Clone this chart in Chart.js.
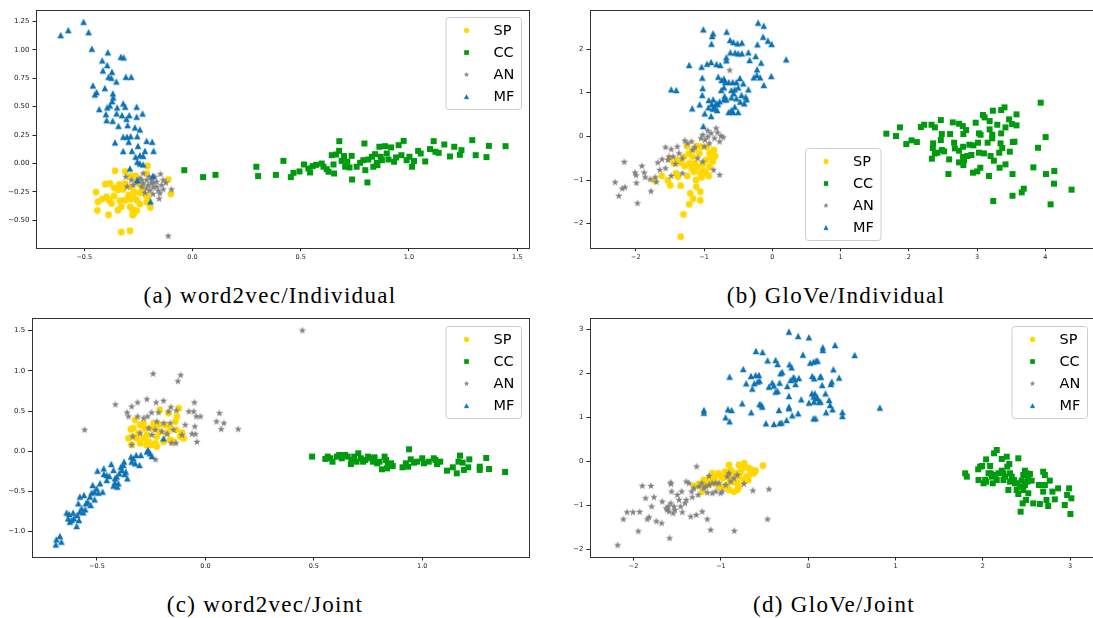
<!DOCTYPE html>
<html>
<head>
<meta charset="utf-8">
<script src="https://cdn.jsdelivr.net/npm/chart.js@4.4.1/dist/chart.umd.min.js"></script>
<style>
  body { margin: 0; background: #fff; width: 1093px; height: 618px; overflow: hidden; position: relative; }
  canvas { position: absolute; }
  .cap { position: absolute; font-family: "Liberation Serif", serif; font-size: 23px; letter-spacing: 1.3px; color: #000; white-space: nowrap; transform: translateX(-50%); line-height: 1; }
</style>
</head>
<body>
<canvas id="chartA" width="546" height="272" style="left:0px;top:0px"></canvas>
<canvas id="chartB" width="560" height="272" style="left:550px;top:0px"></canvas>
<canvas id="chartC" width="546" height="272" style="left:0px;top:310px"></canvas>
<canvas id="chartD" width="560" height="272" style="left:550px;top:310px"></canvas>
<div class="cap" style="left:270px;top:284px">(a) word2vec/Individual</div>
<div class="cap" style="left:836px;top:284px">(b) GloVe/Individual</div>
<div class="cap" style="left:265px;top:593px">(c) word2vec/Joint</div>
<div class="cap" style="left:834px;top:593px">(d) GloVe/Joint</div>
<script>
let labels = ["SP", "CC", "AN", "MF"];

// (a) word2vec / Individual
let aSP = [[-0.358,-0.065],[-0.311,-0.070],[-0.286,-0.111],[-0.262,-0.109],[-0.208,-0.021],[-0.212,-0.088],[-0.112,-0.141],[-0.100,-0.267],[-0.382,-0.176],[-0.403,-0.182],[-0.338,-0.185],[-0.312,-0.176],[-0.362,-0.214],[-0.345,-0.232],[-0.320,-0.229],[-0.286,-0.205],[-0.255,-0.176],[-0.234,-0.199],[-0.271,-0.249],[-0.243,-0.258],[-0.215,-0.282],[-0.446,-0.252],[-0.418,-0.314],[-0.437,-0.337],[-0.397,-0.293],[-0.386,-0.323],[-0.374,-0.352],[-0.363,-0.287],[-0.335,-0.328],[-0.311,-0.323],[-0.286,-0.314],[-0.258,-0.323],[-0.243,-0.358],[-0.212,-0.340],[-0.195,-0.387],[-0.329,-0.381],[-0.345,-0.411],[-0.440,-0.413],[-0.388,-0.452],[-0.289,-0.381],[-0.277,-0.405],[-0.258,-0.416],[-0.271,-0.440],[-0.277,-0.455],[-0.329,-0.604],[-0.289,-0.592],[-0.274,-0.293],[-0.295,-0.279],[-0.231,-0.249],[-0.205,-0.293]];
let aCC = [[-0.038,-0.059],[0.049,-0.120],[0.106,-0.100],[0.295,-0.029],[0.303,-0.111],[0.385,-0.100],[0.420,0.023],[0.454,-0.120],[0.466,-0.082],[0.494,-0.070],[0.515,-0.009],[0.535,-0.044],[0.543,-0.079],[0.555,-0.023],[0.571,-0.012],[0.597,0.000],[0.605,-0.029],[0.620,-0.050],[0.628,-0.073],[0.654,-0.088],[0.651,-0.009],[0.643,0.073],[0.663,0.079],[0.678,0.196],[0.677,0.111],[0.689,0.023],[0.700,0.065],[0.705,-0.029],[0.715,0.015],[0.725,-0.035],[0.737,-0.141],[0.735,0.067],[0.758,-0.029],[0.774,0.006],[0.794,0.176],[0.789,0.029],[0.798,-0.059],[0.808,-0.167],[0.812,0.035],[0.829,0.059],[0.835,-0.029],[0.843,0.082],[0.851,0.006],[0.854,-0.015],[0.863,0.147],[0.869,0.059],[0.875,0.029],[0.889,0.152],[0.897,0.088],[0.917,0.141],[0.905,0.035],[0.931,0.015],[0.940,0.053],[0.952,0.161],[0.975,0.199],[0.965,0.073],[0.989,0.029],[1.002,0.059],[1.014,-0.029],[1.023,0.021],[1.042,0.111],[1.054,0.088],[1.075,0.018],[1.097,0.126],[1.114,0.196],[1.122,0.103],[1.137,0.094],[1.163,0.167],[1.189,0.062],[1.209,0.147],[1.235,0.076],[1.242,0.117],[1.292,0.205],[1.308,0.073],[1.358,0.056],[1.369,0.155],[1.446,0.152]];
let aAN = [[-0.308,-0.117],[-0.282,-0.147],[-0.302,-0.205],[-0.258,-0.161],[-0.228,-0.088],[-0.212,-0.147],[-0.189,-0.176],[-0.182,-0.211],[-0.166,-0.161],[-0.148,-0.094],[-0.135,-0.147],[-0.158,-0.240],[-0.197,-0.240],[-0.151,-0.264],[-0.154,-0.311],[-0.097,-0.229],[-0.112,-0.639],[-0.235,-0.205],[-0.220,-0.258],[-0.205,-0.191],[-0.174,-0.117],[-0.243,-0.132],[-0.143,-0.191],[-0.123,-0.170],[-0.182,-0.270],[-0.212,-0.220],[-0.189,-0.147],[-0.166,-0.205],[-0.135,-0.229],[-0.228,-0.176],[-0.200,-0.117],[-0.180,-0.170],[-0.235,-0.147],[-0.274,-0.191]];
let aMF = [[-0.609,1.129],[-0.574,1.173],[-0.503,1.246],[-0.480,1.155],[-0.465,1.009],[-0.391,0.977],[-0.417,0.906],[-0.331,0.938],[-0.318,0.933],[-0.394,0.865],[-0.414,0.818],[-0.372,0.806],[-0.388,0.762],[-0.375,0.754],[-0.352,0.721],[-0.308,0.762],[-0.283,0.762],[-0.460,0.686],[-0.443,0.628],[-0.451,0.607],[-0.405,0.663],[-0.368,0.616],[-0.366,0.581],[-0.371,0.548],[-0.431,0.478],[-0.394,0.493],[-0.382,0.510],[-0.348,0.493],[-0.320,0.528],[-0.311,0.499],[-0.258,0.499],[-0.231,0.440],[-0.400,0.434],[-0.397,0.381],[-0.369,0.375],[-0.351,0.440],[-0.326,0.425],[-0.305,0.393],[-0.292,0.425],[-0.258,0.411],[-0.342,0.331],[-0.300,0.337],[-0.266,0.317],[-0.243,0.299],[-0.358,0.185],[-0.320,0.235],[-0.303,0.235],[-0.286,0.240],[-0.295,0.191],[-0.255,0.240],[-0.212,0.199],[-0.186,0.191],[-0.252,0.155],[-0.220,0.111],[-0.180,0.111],[-0.320,0.109],[-0.280,0.111],[-0.263,0.059],[-0.243,0.073],[-0.228,0.067],[-0.255,0.015],[-0.243,0.000],[-0.228,-0.009],[-0.289,-0.044],[-0.255,-0.147],[-0.183,-0.109],[-0.194,-0.334]];
let aXTicks = [-0.5, 0, 0.5, 1.0, 1.5];
let aYTicks = [-0.5, -0.25, 0, 0.25, 0.5, 0.75, 1.0, 1.25];

// (b) GloVe / Individual
let bSP = [[-1.342,-2.298],[-1.302,-1.786],[-1.218,-1.557],[-1.158,-1.427],[-1.203,-1.305],[-1.054,-1.466],[-1.054,-1.267],[-1.114,-1.153],[-1.342,-1.130],[-1.495,-1.122],[-1.530,-1.008],[-1.619,-0.908],[-1.723,-1.008],[-1.411,-0.847],[-1.381,-0.924],[-1.243,-0.908],[-1.119,-1.000],[-1.035,-0.939],[-1.005,-0.786],[-0.931,-0.908],[-0.970,-0.832],[-0.871,-0.580],[-0.837,-0.450],[-0.856,-0.313],[-0.921,-0.389],[-0.970,-0.542],[-1.020,-0.634],[-1.094,-0.695],[-1.144,-0.809],[-1.183,-0.733],[-1.218,-0.618],[-1.282,-0.679],[-1.342,-0.603],[-1.292,-0.466],[-1.218,-0.389],[-1.153,-0.298],[-1.104,-0.221],[-1.252,-0.221],[-1.168,-0.466],[-1.069,-0.389],[-1.045,-0.237],[-0.955,-0.237],[-0.886,-0.466],[-1.500,-0.504],[-1.391,-0.542],[-1.441,-0.618],[-1.134,-0.618],[-1.054,-0.847],[-0.921,-0.695]];
let bCC = [[1.671,0.061],[1.812,0.008],[1.870,0.206],[1.963,-0.176],[2.040,-0.092],[2.118,-0.130],[2.176,0.214],[2.225,0.267],[2.332,0.267],[2.381,0.206],[2.468,0.374],[2.483,0.053],[2.468,-0.084],[2.356,-0.160],[2.351,-0.267],[2.381,-0.389],[2.337,-0.511],[2.420,-0.374],[2.483,-0.313],[2.517,-0.344],[2.605,0.053],[2.644,0.321],[2.736,0.290],[2.790,0.237],[2.839,0.145],[2.799,0.053],[2.663,-0.145],[2.673,-0.275],[2.736,-0.328],[2.795,-0.237],[2.887,-0.191],[2.945,-0.206],[3.013,-0.145],[2.979,0.313],[3.086,0.489],[3.110,0.435],[3.183,0.351],[3.231,0.588],[3.353,0.603],[3.401,0.664],[3.469,0.389],[3.513,0.282],[3.577,0.504],[3.577,0.252],[3.295,0.267],[3.353,0.069],[3.416,0.206],[3.183,0.160],[3.222,0.038],[3.222,-0.046],[3.154,-0.145],[3.027,0.069],[3.051,0.038],[3.343,-0.160],[3.368,-0.267],[3.324,-0.374],[3.479,-0.351],[3.523,-0.130],[3.547,-0.122],[3.100,-0.389],[3.197,-0.450],[3.246,-0.557],[3.027,-0.374],[2.916,-0.427],[2.857,-0.450],[2.809,-0.542],[2.736,-0.595],[2.799,-0.656],[2.590,-0.527],[2.580,-0.863],[2.940,-0.832],[3.003,-0.802],[3.047,-0.718],[3.173,-0.908],[3.329,-0.718],[3.416,-0.641],[3.518,-0.863],[3.236,-1.481],[3.518,-1.359],[3.654,-1.282],[3.683,-1.198],[3.824,-0.710],[3.893,-0.260],[3.931,0.771],[4.004,-0.015],[4.009,-0.863],[4.131,-0.794],[4.126,-1.084],[4.077,-1.557],[4.384,-1.221],[2.794,-0.466]];
let bAN = [[-2.302,-1.053],[-2.248,-1.366],[-2.198,-1.198],[-2.158,-1.168],[-2.168,-0.588],[-2.010,-0.832],[-1.995,-0.893],[-1.990,-1.069],[-1.911,-0.679],[-1.876,-0.832],[-1.861,-0.939],[-1.975,-1.534],[-1.777,-1.260],[-1.787,-0.985],[-1.713,-0.939],[-1.698,-1.046],[-1.678,-0.603],[-1.649,-0.771],[-1.614,-0.527],[-1.564,-0.252],[-1.530,-0.542],[-1.515,-0.466],[-1.480,-0.298],[-1.451,-0.466],[-1.416,-0.634],[-1.391,-0.237],[-1.366,-0.389],[-1.317,-0.504],[-1.282,-0.099],[-1.243,-0.160],[-1.183,-0.122],[-1.168,-0.313],[-1.317,-0.847],[-1.480,-0.908],[-1.564,-0.733],[-1.045,-0.046],[-1.020,0.031],[-0.985,-0.084],[-0.945,-0.008],[-0.896,0.069],[-0.847,-0.046],[-0.822,0.183],[-0.802,0.084],[-0.752,0.008],[-0.718,-0.023],[-0.772,-0.122],[-0.921,-0.160],[-0.995,-0.237],[-1.134,-0.252],[-1.020,-0.580],[-1.094,-0.504],[-0.861,-0.771],[-0.772,-0.885],[-0.624,1.511],[-0.946,0.130]];
let bMF = [[-1.010,2.450],[-0.866,2.359],[-0.881,2.298],[-0.891,2.122],[-0.668,2.397],[-0.619,2.206],[-0.569,2.160],[-0.510,2.130],[-0.446,2.145],[-0.500,1.901],[-0.545,1.916],[-0.614,1.924],[-0.208,2.603],[-0.124,2.534],[-0.134,2.282],[-0.064,2.191],[-0.010,2.115],[-0.218,2.107],[-0.351,1.924],[-0.446,1.901],[-0.243,1.840],[-0.332,1.748],[-0.163,1.687],[-0.223,1.534],[-0.228,1.405],[-0.178,1.351],[-0.272,1.351],[-0.015,1.382],[-0.124,1.176],[0.203,1.763],[-1.218,1.634],[-1.035,1.595],[-0.955,1.664],[-0.896,1.702],[-0.817,1.656],[-0.762,1.634],[-0.673,1.809],[-0.673,1.740],[-1.025,1.344],[-1.020,1.107],[-1.025,0.947],[-1.480,1.076],[-1.406,1.061],[-1.173,0.641],[-1.064,0.733],[-0.990,0.527],[-0.936,0.664],[-0.896,0.466],[-0.886,0.740],[-0.847,0.679],[-0.807,0.603],[-0.792,1.366],[-0.743,1.290],[-0.708,1.321],[-0.688,1.244],[-0.708,1.122],[-0.748,1.061],[-0.698,0.924],[-0.639,1.244],[-0.579,1.244],[-0.525,1.244],[-0.475,1.336],[-0.426,1.214],[-0.500,1.122],[-0.550,1.076],[-0.599,1.061],[-0.564,0.985],[-0.599,0.893],[-0.525,0.870],[-0.450,0.947],[-0.391,0.908],[-0.351,1.076],[-0.376,0.847],[-0.411,0.756],[-0.470,0.794],[-0.550,0.679],[-0.599,0.603],[-0.639,0.557],[-0.574,0.557],[-0.500,0.557],[-0.673,0.847],[-0.708,0.847],[-0.772,0.802],[-0.797,0.740],[-0.931,0.832],[-0.866,0.847],[-0.822,0.756],[-1.010,0.237],[-0.871,0.634]];
let bXTicks = [-2, -1, 0, 1, 2, 3, 4];
let bYTicks = [-2, -1, 0, 1, 2];

// (c) word2vec / Joint
let cSP = [[-0.355,0.162],[-0.344,0.274],[-0.332,0.286],[-0.324,0.390],[-0.335,0.183],[-0.316,0.162],[-0.301,0.328],[-0.282,0.286],[-0.270,0.203],[-0.262,0.120],[-0.285,0.162],[-0.247,0.079],[-0.231,0.100],[-0.224,0.183],[-0.211,0.515],[-0.239,0.286],[-0.216,0.328],[-0.208,0.245],[-0.185,0.328],[-0.177,0.224],[-0.162,0.141],[-0.147,0.120],[-0.139,0.369],[-0.131,0.432],[-0.123,0.535],[-0.116,0.183],[-0.108,0.232],[-0.100,0.162],[-0.134,0.266],[-0.162,0.286],[-0.193,0.120],[-0.224,0.058],[-0.239,0.349],[-0.255,0.286],[-0.170,0.473],[-0.285,0.349],[-0.309,0.224],[-0.301,0.100],[-0.340,0.079],[-0.273,0.079]];
let cCC = [[0.492,-0.066],[0.553,-0.095],[0.564,-0.066],[0.576,-0.087],[0.586,-0.129],[0.606,-0.066],[0.617,-0.046],[0.629,-0.087],[0.644,-0.046],[0.656,-0.066],[0.671,-0.158],[0.674,-0.108],[0.686,-0.066],[0.697,-0.129],[0.705,-0.025],[0.717,-0.087],[0.727,-0.129],[0.738,-0.108],[0.750,-0.066],[0.765,-0.087],[0.773,-0.129],[0.780,-0.075],[0.792,-0.149],[0.803,-0.129],[0.814,-0.224],[0.826,-0.066],[0.833,-0.108],[0.841,-0.170],[0.856,-0.149],[0.864,-0.183],[0.838,-0.212],[0.909,-0.199],[0.924,-0.149],[0.935,-0.191],[0.939,0.025],[0.947,-0.100],[0.962,-0.141],[0.977,-0.129],[1.000,-0.087],[1.008,-0.149],[1.030,-0.129],[1.053,-0.087],[1.061,-0.108],[1.068,-0.158],[1.083,-0.129],[1.114,-0.241],[1.141,-0.199],[1.159,-0.274],[1.167,-0.129],[1.174,-0.054],[1.186,-0.141],[1.192,-0.232],[1.212,-0.199],[1.217,-0.100],[1.265,-0.191],[1.265,-0.232],[1.295,-0.083],[1.308,-0.220],[1.382,-0.257]];
let cAN = [[-0.557,0.266],[-0.415,0.581],[-0.361,0.481],[-0.355,0.432],[-0.340,0.556],[-0.313,0.606],[-0.270,0.647],[-0.227,0.606],[-0.193,0.627],[-0.248,0.481],[-0.216,0.481],[-0.170,0.494],[-0.159,0.548],[-0.134,0.506],[-0.127,0.871],[-0.114,0.946],[-0.241,0.963],[-0.077,0.494],[-0.051,0.606],[-0.054,0.494],[-0.042,0.432],[-0.023,0.432],[-0.093,0.328],[-0.049,0.307],[-0.046,0.212],[-0.039,0.116],[-0.062,0.216],[-0.108,0.203],[-0.136,0.100],[-0.157,0.100],[-0.177,0.216],[-0.201,0.245],[-0.231,0.266],[-0.262,0.286],[-0.247,0.203],[-0.301,0.224],[-0.285,0.411],[-0.267,0.432],[-0.313,0.432],[-0.335,0.183],[-0.340,0.079],[-0.230,-0.104],[0.051,0.369],[0.065,0.473],[0.073,0.274],[0.085,0.349],[0.151,0.274],[-0.162,0.349],[-0.147,0.266],[-0.193,0.349],[-0.224,0.369],[0.447,1.502]];
let cMF = [[-0.690,-1.158],[-0.687,-1.095],[-0.671,-1.054],[-0.664,-1.124],[-0.640,-0.763],[-0.633,-0.834],[-0.625,-0.876],[-0.628,-0.780],[-0.610,-0.763],[-0.606,-0.834],[-0.594,-0.929],[-0.583,-0.855],[-0.579,-0.751],[-0.586,-0.647],[-0.571,-0.710],[-0.563,-0.759],[-0.554,-0.722],[-0.579,-0.564],[-0.560,-0.544],[-0.543,-0.627],[-0.532,-0.564],[-0.525,-0.515],[-0.520,-0.419],[-0.512,-0.502],[-0.502,-0.461],[-0.498,-0.241],[-0.494,-0.515],[-0.474,-0.502],[-0.469,-0.212],[-0.468,-0.282],[-0.455,-0.295],[-0.455,-0.357],[-0.443,-0.307],[-0.434,-0.158],[-0.424,-0.232],[-0.417,-0.336],[-0.417,-0.390],[-0.424,-0.427],[-0.406,-0.440],[-0.401,-0.398],[-0.409,-0.315],[-0.397,-0.274],[-0.390,-0.191],[-0.386,-0.232],[-0.378,-0.170],[-0.375,-0.129],[-0.367,-0.253],[-0.360,-0.336],[-0.373,-0.282],[-0.343,-0.066],[-0.340,-0.129],[-0.332,-0.087],[-0.324,-0.149],[-0.304,-0.170],[-0.319,-0.046],[-0.298,-0.046],[-0.270,-0.004],[-0.264,0.017],[-0.255,-0.025],[-0.247,-0.058],[-0.193,0.162],[-0.486,-0.398],[-0.511,-0.598],[-0.529,-0.668],[-0.551,-0.647],[-0.591,-0.792],[-0.617,-0.855]];
let cXTicks = [-0.5, 0, 0.5, 1.0];
let cYTicks = [-1.0, -0.5, 0, 0.5, 1.0, 1.5];

// (d) GloVe / Joint
let dSP = [[-0.519,-0.098],[-0.733,-0.045],[-0.718,-0.121],[-0.756,-0.159],[-0.641,-0.197],[-0.622,-0.273],[-0.603,-0.212],[-0.660,-0.288],[-0.710,-0.348],[-0.687,-0.424],[-0.737,-0.439],[-0.794,-0.348],[-0.813,-0.500],[-0.851,-0.462],[-0.870,-0.273],[-0.889,-0.197],[-0.927,-0.348],[-0.954,-0.235],[-0.985,-0.386],[-1.004,-0.311],[-1.031,-0.273],[-1.061,-0.348],[-1.080,-0.424],[-1.099,-0.273],[-1.137,-0.386],[-1.156,-0.462],[-1.195,-0.424],[-1.214,-0.689],[-1.206,-0.538],[-1.137,-0.538],[-1.061,-0.500],[-1.023,-0.576],[-0.966,-0.576],[-0.908,-0.652],[-0.851,-0.689],[-0.813,-0.652],[-0.794,-0.576],[-0.927,-0.538],[-0.889,-0.424],[-0.832,-0.273],[-0.775,-0.235],[-0.679,-0.159],[-0.908,-0.083],[-0.794,-0.083],[-1.252,-0.515],[-1.309,-0.561]];
let dCC = [[1.798,-0.273],[1.817,-0.348],[1.947,-0.182],[1.951,-0.424],[1.970,-0.121],[1.992,-0.106],[2.038,0.045],[2.027,-0.424],[2.008,-0.500],[2.084,-0.106],[2.065,-0.273],[2.091,-0.273],[2.114,-0.500],[2.129,0.182],[2.160,0.258],[2.103,-0.348],[2.144,-0.311],[2.179,-0.273],[2.217,0.053],[2.217,-0.212],[2.236,-0.273],[2.255,-0.348],[2.274,0.106],[2.281,-0.121],[2.304,-0.061],[2.312,-0.273],[2.331,-0.348],[2.357,-0.424],[2.293,-0.652],[2.388,-0.500],[2.407,0.068],[2.388,-0.652],[2.407,-0.742],[2.426,-0.576],[2.445,-0.439],[2.464,-0.311],[2.483,-0.212],[2.502,-0.273],[2.521,-0.348],[2.540,-0.288],[2.510,-0.462],[2.483,-0.538],[2.464,-0.652],[2.521,-0.727],[2.494,-0.879],[2.456,-0.955],[2.433,-1.144],[2.578,-0.955],[2.643,-0.538],[2.654,-0.970],[2.692,-0.235],[2.711,-0.311],[2.711,-0.538],[2.692,-0.689],[2.730,-0.879],[2.749,-1.015],[2.768,-0.439],[2.798,-0.689],[2.825,-0.864],[2.863,-0.614],[2.939,-0.992],[2.966,-0.765],[2.989,-0.614],[3.015,-0.841],[3.004,-1.197],[2.369,-0.500],[2.236,-0.424],[2.160,-0.424],[2.038,-0.462],[2.312,-0.462],[2.559,-0.439]];
let dAN = [[-2.183,-1.909],[-2.118,-1.318],[-2.076,-1.159],[-2.008,-1.159],[-1.931,-1.152],[-1.947,-1.591],[-1.901,-0.561],[-1.802,-0.561],[-1.863,-0.841],[-1.767,-0.818],[-1.794,-1.030],[-1.844,-1.318],[-1.824,-1.273],[-1.740,-1.364],[-1.679,-1.409],[-1.672,-0.917],[-1.626,-1.068],[-1.603,-1.030],[-1.576,-0.955],[-1.588,-1.750],[-1.615,-1.106],[-1.595,-1.144],[-1.565,-0.689],[-1.576,-0.485],[-1.573,-0.515],[-1.546,-1.182],[-1.527,-1.106],[-1.538,-1.030],[-1.500,-0.765],[-1.481,-0.879],[-1.450,-0.689],[-1.462,-1.030],[-1.443,-1.159],[-1.412,-0.955],[-1.397,-0.879],[-1.397,-0.462],[-1.366,-0.500],[-1.347,-1.258],[-1.328,-0.818],[-1.336,-0.689],[-1.309,-0.614],[-1.279,-0.121],[-1.282,-1.220],[-1.260,-0.765],[-1.252,-0.576],[-1.214,-1.144],[-1.176,-0.576],[-1.195,-0.614],[-1.156,-0.712],[-1.137,-0.538],[-1.156,-1.318],[-1.118,-1.561],[-1.099,-0.727],[-1.061,-0.689],[-1.004,-0.727],[-1.023,-0.500],[-0.985,-0.689],[-0.947,-0.538],[-0.908,-0.273],[-0.851,-0.386],[-0.813,-0.311],[-0.737,-0.515],[-0.634,-0.667],[-0.450,-0.636],[-0.466,-1.318],[-0.847,-1.583],[-0.927,-0.348],[-0.889,-0.462],[-1.061,-0.500],[-1.099,-0.500],[-1.137,-0.333],[-1.221,-0.500]];
let dMF = [[-1.195,1.167],[-1.195,1.106],[-0.947,1.000],[-0.920,1.182],[-0.878,1.167],[-0.901,0.909],[-0.901,1.924],[-0.744,2.098],[-0.756,1.318],[-0.653,1.114],[-0.656,1.939],[-0.599,2.508],[-0.523,2.485],[-0.565,1.962],[-0.557,1.833],[-0.580,1.811],[-0.618,1.773],[-0.641,1.652],[-0.557,1.303],[-0.538,1.288],[-0.466,2.295],[-0.485,0.864],[-0.393,0.848],[-0.374,2.303],[-0.351,2.212],[-0.328,0.871],[-0.305,0.879],[-0.412,1.788],[-0.393,1.720],[-0.351,1.598],[-0.328,1.788],[-0.317,2.000],[-0.298,2.030],[-0.240,1.712],[-0.221,1.205],[-0.214,2.205],[-0.191,2.136],[-0.168,1.917],[-0.202,1.848],[-0.153,1.864],[-0.145,1.758],[-0.107,1.894],[-0.221,1.485],[-0.221,1.242],[-0.183,1.045],[-0.115,1.091],[-0.080,1.409],[-0.061,2.424],[-0.115,2.848],[-0.221,2.947],[0.008,2.818],[0.008,1.333],[0.023,2.242],[0.065,1.356],[0.076,1.545],[0.084,0.977],[0.107,2.288],[0.103,1.455],[0.141,1.356],[0.145,1.924],[-0.248,0.939],[-0.336,1.167],[-0.374,1.583],[-0.450,1.697],[-0.527,1.242],[-0.710,1.773],[-0.603,1.962],[0.061,2.265],[0.091,2.288],[0.046,1.939],[0.068,1.886],[0.137,1.924],[0.167,2.591],[0.167,2.530],[0.308,2.644],[0.532,2.417],[0.289,2.091],[0.354,1.902],[0.160,1.735],[0.259,1.758],[0.270,1.811],[0.042,1.545],[0.061,1.470],[0.099,1.432],[0.198,1.545],[0.240,1.394],[0.125,1.356],[0.251,1.280],[0.278,1.182],[0.205,1.114],[0.392,1.121],[0.392,1.030],[0.061,0.977],[0.821,1.220]];
let dXTicks = [-2, -1, 0, 1, 2, 3];
let dYTicks = [-2, -1, 0, 1, 2, 3];

let colors = { SP: "#ffd700", CC: "#009a0e", AN: "#808080", MF: "#0b72b3" };

// marker glyphs like matplotlib's o, s, *, ^
function makeMarker(shape, color, s) {
    let c = document.createElement("canvas");
    c.width = 12;
    c.height = 12;
    let g = c.getContext("2d");
    g.fillStyle = color;
    g.translate(6, 6);
    g.beginPath();
    if (shape === "circle") {
        g.arc(0, 0, s / 2, 0, Math.PI * 2);
    } else if (shape === "square") {
        g.rect(-s / 2, -s / 2, s, s);
    } else if (shape === "triangle") {
        g.moveTo(0, -s / 2);
        g.lineTo(s / 2, s / 2);
        g.lineTo(-s / 2, s / 2);
        g.closePath();
    } else {
        for (let i = 0; i < 10; i++) {
            let r = i % 2 === 0 ? s / 2 : s / 2 * 0.4;
            let a = -Math.PI / 2 + i * Math.PI / 5;
            if (i === 0) g.moveTo(r * Math.cos(a), r * Math.sin(a));
            else g.lineTo(r * Math.cos(a), r * Math.sin(a));
        }
        g.closePath();
    }
    g.fill();
    return c;
}

let markers = {
    SP: makeMarker("circle", colors.SP, 6.8),
    CC: makeMarker("square", colors.CC, 6.0),
    AN: makeMarker("star", colors.AN, 7.8),
    MF: makeMarker("triangle", colors.MF, 6.6)
};

// box around the plot (all four spines)
let framePlugin = {
    id: "frame",
    afterDatasetsDraw(chart) {
        let a = chart.chartArea;
        let ctx = chart.ctx;
        ctx.save();
        ctx.strokeStyle = "#333";
        ctx.lineWidth = 1;
        ctx.strokeRect(Math.round(a.left) + 0.5, Math.round(a.top) + 0.5, Math.round(a.right - a.left), Math.round(a.bottom - a.top));
        ctx.restore();
    }
};

// matplotlib style legend inside the axes
let boxLegend = {
    id: "boxLegend",
    afterDraw(chart, args, opts) {
        let ctx = chart.ctx;
        let [x, y, w, h] = opts.box;
        ctx.save();
        ctx.fillStyle = "rgba(255,255,255,0.8)";
        ctx.strokeStyle = "#cccccc";
        ctx.lineWidth = 1;
        ctx.beginPath();
        ctx.roundRect(x + 0.5, y + 0.5, w, h, 3);
        ctx.fill();
        ctx.stroke();
        ctx.font = "14.5px 'DejaVu Sans'";
        ctx.fillStyle = "#000";
        ctx.textBaseline = "middle";
        labels.forEach((lab, i) => {
            let ry = y + 13.5 + i * 22;
            ctx.drawImage(markers[lab], x + 21 - 4.5, ry - 4.5, 9, 9);
            ctx.fillText(lab, x + 48, ry + 0.5);
        });
        ctx.restore();
    }
};

function fmt(v, dec) {
    return v.toFixed(dec).replace("-", "\u2212");
}

function toXY(arr) {
    return arr.map(p => ({ x: p[0], y: p[1] }));
}

function makePanel(id, p) {
    let sets = [p.SP, p.CC, p.AN, p.MF];
    new Chart(document.getElementById(id), {
        type: "scatter",
        data: {
            datasets: labels.map((lab, i) => ({
                label: lab,
                data: toXY(sets[i]),
                pointStyle: markers[lab],
                pointRadius: 3,
                order: 4 - i
            }))
        },
        options: {
            responsive: false,
            animation: false,
            devicePixelRatio: 1,
            layout: { autoPadding: false, padding: { top: p.padTop, right: p.padRight, left: 0, bottom: 0 } },
            plugins: {
                legend: { display: false },
                tooltip: { enabled: false },
                boxLegend: { box: p.legend }
            },
            scales: {
                x: {
                    type: "linear",
                    min: p.xRange[0],
                    max: p.xRange[1],
                    afterFit: s => { s.height = p.xHeight; },
                    afterBuildTicks: s => { s.ticks = p.xTicks.map(v => ({ value: v })); },
                    ticks: { callback: v => fmt(v, p.xDec), font: { family: "DejaVu Sans", size: p.xFont }, color: "#222", padding: 2, maxRotation: 0, autoSkip: false },
                    grid: { drawOnChartArea: false, tickLength: 3.5, color: "#222" },
                    border: { display: false }
                },
                y: {
                    type: "linear",
                    min: p.yRange[0],
                    max: p.yRange[1],
                    afterFit: s => { s.width = p.yWidth; },
                    afterBuildTicks: s => { s.ticks = p.yTicks.map(v => ({ value: v })); },
                    ticks: { callback: v => fmt(v, p.yDec), font: { family: "DejaVu Sans", size: 7 }, color: "#222", padding: 3, autoSkip: false },
                    grid: { drawOnChartArea: false, tickLength: 3.5, color: "#222" },
                    border: { display: false }
                }
            }
        },
        plugins: [framePlugin, boxLegend]
    });
}

makePanel("chartA", {
    SP: aSP, CC: aCC, AN: aAN, MF: aMF,
    xRange: [-0.723, 1.553], yRange: [-0.741, 1.354],
    xTicks: aXTicks, yTicks: aYTicks, xDec: 1, yDec: 2, xFont: 6.5,
    padTop: 9.5, padRight: 17.3, yWidth: 36, xHeight: 24.3,
    legend: [445.5, 17, 75.5, 92]
});

makePanel("chartB", {
    SP: bSP, CC: bCC, AN: bAN, MF: bMF,
    xRange: [-2.67, 4.72], yRange: [-2.55, 2.905],
    xTicks: bXTicks, yTicks: bYTicks, xDec: 0, yDec: 0, xFont: 6.5,
    padTop: 9.5, padRight: 15.5, yWidth: 40, xHeight: 24.3,
    legend: [255, 148, 75.5, 92]
});

makePanel("chartC", {
    SP: cSP, CC: cCC, AN: cAN, MF: cMF,
    xRange: [-0.801, 1.491], yRange: [-1.315, 1.654],
    xTicks: cXTicks, yTicks: cYTicks, xDec: 1, yDec: 1, xFont: 6.5,
    padTop: 8.3, padRight: 17.3, yWidth: 31.7, xHeight: 25,
    legend: [445.5, 16, 75.5, 92]
});

makePanel("chartD", {
    SP: dSP, CC: dCC, AN: dAN, MF: dMF,
    xRange: [-2.5, 3.28], yRange: [-2.175, 3.25],
    xTicks: dXTicks, yTicks: dYTicks, xDec: 0, yDec: 0, xFont: 6.5,
    padTop: 8.3, padRight: 15.5, yWidth: 40, xHeight: 25,
    legend: [461.5, 16, 75.5, 92]
});
</script>
</body>
</html>
